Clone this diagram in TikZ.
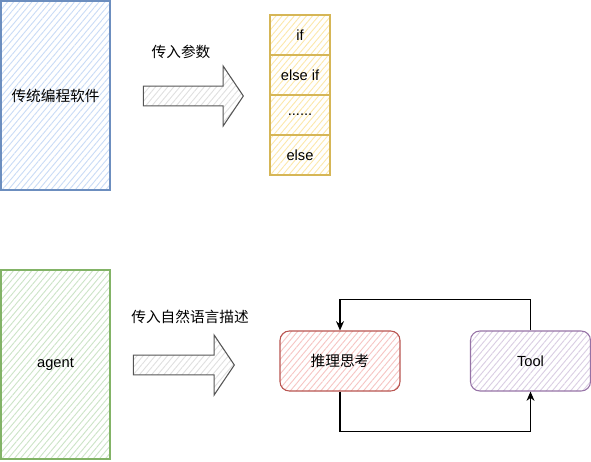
\documentclass[tikz,border=0pt]{standalone}
\usepackage{fontspec}
\setmainfont{Liberation Sans}
\newfontfamily\cjk{Noto Sans CJK SC}
\usetikzlibrary{patterns.meta,shapes.arrows,arrows.meta}
\definecolor{blueline}{HTML}{6C8EBF}
\definecolor{bluehatch}{HTML}{CADCF6}
\definecolor{yellowline}{HTML}{D6B656}
\definecolor{yellowhatch}{HTML}{FCE8AC}
\definecolor{greenline}{HTML}{82B366}
\definecolor{greenhatch}{HTML}{CDE4C8}
\definecolor{redline}{HTML}{B85450}
\definecolor{redhatch}{HTML}{F6C6C4}
\definecolor{purpleline}{HTML}{9673A6}
\definecolor{purplehatch}{HTML}{DACEE3}
\definecolor{arrowline}{HTML}{555555}
\definecolor{arrowhatch}{HTML}{E0E0E0}

\begin{document}
\begin{tikzpicture}[x=0.75pt,y=0.75pt,yscale=-1,xscale=1,
  font=\fontsize{11}{13}\selectfont,
  sketch/.style={draw=#1line, line width=0.8pt, pattern={Lines[angle=50,distance=3.5pt,line width=0.7pt]}, pattern color=#1hatch, inner sep=0pt},
  tallbox/.style={sketch=#1, minimum width=81.75pt, minimum height=141.75pt},
  cell/.style={sketch=yellow, minimum width=45pt, minimum height=30pt},
  roundbox/.style={sketch=#1, rounded corners=7pt, minimum width=90pt, minimum height=45pt},
  bigarrow/.style={sketch=arrow, single arrow, inner xsep=0pt, inner ysep=7pt, single arrow head extend=15pt, single arrow tip angle=112, minimum width=45pt},
  link/.style={draw=black, line width=0.8pt, -{Stealth[length=7pt,width=6pt]}}]
\useasboundingbox (0,0) rectangle (591,461);

% upper row
\node [tallbox=blue] (soft) at (55.5,95.5) {\cjk 传统编程软件};
\node (argtext) at (181,52) {\cjk 传入参数};
\node [bigarrow, minimum height=75pt] (arrowa) at (190,96) {};
\node [cell] (ifcell) at (300,35) {if};
\node [cell] (elifcell) at (300,75) {else if};
\node [cell] (dotcell) at (300,115) {......};
\node [cell] (elsecell) at (300,155) {else};

% lower row
\node [tallbox=green] (agent) at (55.5,364.5) {agent};
\node (nltext) at (190,317) {\cjk 传入自然语言描述};
\node [bigarrow, minimum height=75.75pt] (arrowb) at (180.5,365) {};
\node [roundbox=red] (think) at (340,361) {\cjk 推理思考};
\node [roundbox=purple] (tool) at (530.5,361) {Tool};

% loop
\draw [link] (tool.north) -- ++(0,-31) -| (think.north);
\draw [link] (think.south) -- ++(0,40) -| (tool.south);

\end{tikzpicture}
\end{document}
